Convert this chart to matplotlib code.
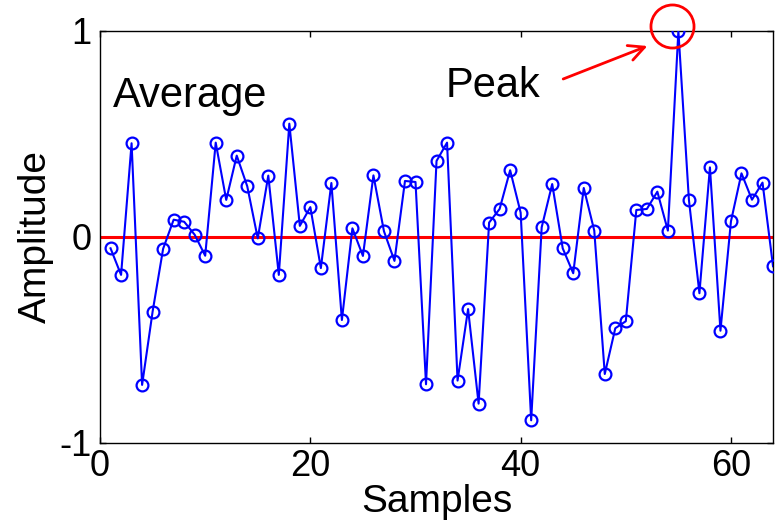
import matplotlib
matplotlib.use("Agg")
import matplotlib.pyplot as plt

plt.rcParams['font.family'] = ['Liberation Sans', 'DejaVu Sans']
plt.rcParams['axes.unicode_minus'] = False

samples = list(range(1, 65))
amplitude = [
    -0.055, -0.184, 0.455, -0.718, -0.362, -0.057, 0.084, 0.074, 0.011, -0.091,
    0.458, 0.180, 0.395, 0.246, -0.007, 0.298, -0.184, 0.550, 0.054, 0.145,
    -0.151, 0.262, -0.403, 0.042, -0.092, 0.299, 0.028, -0.116, 0.272, 0.267,
    -0.715, 0.369, 0.458, -0.697, -0.350, -0.809, 0.070, 0.136, 0.324, 0.118,
    -0.890, 0.047, 0.257, -0.055, -0.176, 0.238, 0.031, -0.665, -0.443, -0.409,
    0.131, 0.136, 0.220, 0.031, 1.000, 0.181, -0.273, 0.338, -0.455, 0.076,
    0.309, 0.181, 0.264, -0.142,
]
average = 0.0
x_ticks = [0, 20, 40, 60]
y_ticks = [-1, 0, 1]


def draw_signal(ax):
    ax.plot(samples, amplitude, color='blue', lw=1.5, marker='o',
            markersize=8.5, mfc='none', mec='blue', mew=1.6, zorder=3)
    ax.axhline(average, color='red', lw=2.2, zorder=2)


def draw_notes(ax):
    ax.text(1.2, 0.633, 'Average', fontsize=30, va='baseline', ha='left')
    ax.text(32.9, 0.681, 'Peak', fontsize=30, va='baseline', ha='left')
    ax.annotate('', xy=(52.3, 0.932), xytext=(43.8, 0.762),
                arrowprops=dict(arrowstyle='->', color='red', lw=2,
                                mutation_scale=28))
    ax.plot([54.4], [1.026], marker='o', markersize=31, mfc='none',
            mec='red', mew=2, clip_on=False, zorder=4)


def style_axes(ax):
    ax.set_xlim(0, 64)
    ax.set_ylim(-1, 1)
    ax.set_xticks(x_ticks)
    ax.set_yticks(y_ticks)
    ax.tick_params(direction='in', length=4, width=1, top=True, right=True,
                   labelsize=26)
    ax.tick_params(axis='x', pad=4)
    ax.tick_params(axis='y', pad=6)
    ax.set_xlabel('Samples', fontsize=28, labelpad=0)
    ax.set_ylabel('Amplitude', fontsize=28, labelpad=4)
    for s in ax.spines.values():
        s.set_linewidth(1)


def main():
    fig = plt.figure(figsize=(7.84, 5.25), dpi=100)
    ax = fig.add_axes([0.1276, 0.1562, 0.8584, 0.7848])
    draw_signal(ax)
    draw_notes(ax)
    style_axes(ax)
    fig.savefig('out.png', dpi=100)


if __name__ == "__main__":
    main()
